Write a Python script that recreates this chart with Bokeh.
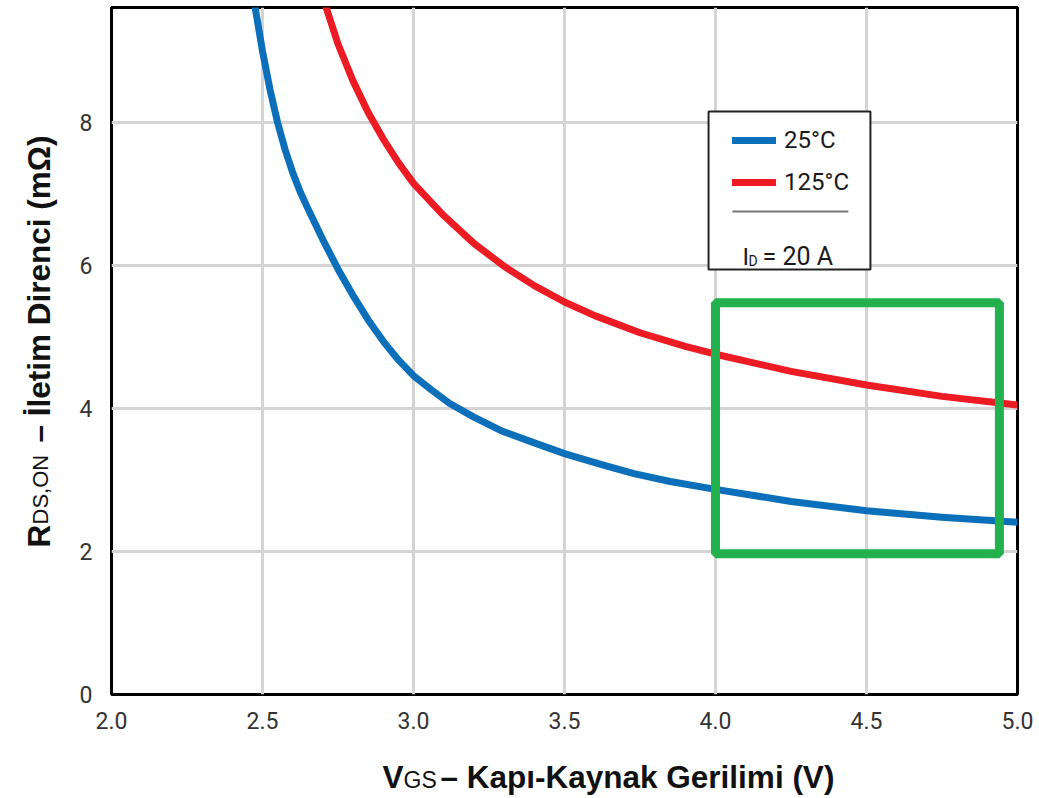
from math import pi
from bokeh.plotting import figure
from bokeh.layouts import row, column
from bokeh.models import (Range1d, FixedTicker, PrintfTickFormatter, Label,
                          BoxAnnotation, Legend, LegendItem)
from bokeh.embed import file_html
from bokeh.resources import INLINE

# ---- data ----
vgs_25 = [2.47, 2.50, 2.525, 2.55, 2.575, 2.60, 2.625, 2.65, 2.70, 2.75, 2.80,
          2.85, 2.90, 2.95, 3.00, 3.06, 3.12, 3.20, 3.29, 3.40, 3.50, 3.62,
          3.73, 3.85, 4.00, 4.25, 4.50, 4.75, 5.00]
rds_25 = [9.75, 9.00, 8.46, 8.00, 7.62, 7.30, 7.03, 6.80, 6.36, 5.95, 5.58,
          5.24, 4.94, 4.68, 4.46, 4.26, 4.07, 3.88, 3.69, 3.52, 3.37, 3.22,
          3.09, 2.98, 2.87, 2.70, 2.57, 2.48, 2.41]
vgs_125 = [2.70, 2.75, 2.80, 2.85, 2.90, 2.95, 3.00, 3.10, 3.20, 3.30, 3.40,
           3.50, 3.60, 3.75, 3.90, 4.00, 4.25, 4.50, 4.75, 5.00]
rds_125 = [9.75, 9.10, 8.58, 8.14, 7.77, 7.44, 7.15, 6.70, 6.31, 5.99, 5.72,
           5.49, 5.30, 5.06, 4.87, 4.76, 4.52, 4.33, 4.17, 4.05]

x_ticks = [2.0, 2.5, 3.0, 3.5, 4.0, 4.5, 5.0]
y_ticks = [0, 2, 4, 6, 8]
series_labels = ["25°C", "125°C"]

# highlighted region (green box)
hl_left, hl_right, hl_bottom, hl_top = 4.0, 4.94, 1.97, 5.48

BLUE = "#0b6fba"
RED = "#ed1c24"
GREEN = "#22b14c"
TICKF = "Roboto"
BOLD = "Liberation Sans"

LEFT_W = 62
MAIN_W = 973
MAIN_H = 740
BOT_H = 55
TOTAL_H = MAIN_H + BOT_H

p = figure(width=MAIN_W, height=MAIN_H, output_backend="svg", toolbar_location=None,
           x_range=Range1d(2.0, 5.0), y_range=Range1d(0, 9.61),
           min_border_left=49, min_border_right=18, min_border_top=7,
           min_border_bottom=46)

p.outline_line_color = "black"
p.outline_line_width = 3

for ax in (p.xaxis[0], p.yaxis[0]):
    ax.axis_line_color = None
    ax.major_tick_line_color = None
    ax.minor_tick_line_color = None
    ax.major_label_text_font = TICKF
    ax.major_label_text_font_size = "23px"
    ax.major_label_text_color = "#333333"

p.xaxis.ticker = FixedTicker(ticks=x_ticks)
p.xaxis.formatter = PrintfTickFormatter(format="%.1f")
p.xaxis.major_label_standoff = 11
p.yaxis.ticker = FixedTicker(ticks=y_ticks)
p.yaxis.formatter = PrintfTickFormatter(format="%d")
p.yaxis.major_label_standoff = 13

p.xgrid.grid_line_color = "#d4d4d4"
p.ygrid.grid_line_color = "#d4d4d4"
p.xgrid.grid_line_width = 3
p.ygrid.grid_line_width = 3

r25 = p.line(vgs_25, rds_25, line_color=BLUE, line_width=7, line_join="round", line_cap="round")
r125 = p.line(vgs_125, rds_125, line_color=RED, line_width=7, line_join="round", line_cap="round")

# green highlight box
p.add_layout(BoxAnnotation(left=hl_left, right=hl_right, bottom=hl_bottom, top=hl_top,
                           fill_alpha=0, line_color=GREEN, line_alpha=1, line_width=9))

# legend frame
p.add_layout(BoxAnnotation(left=3.977, right=4.513, bottom=5.944, top=8.154,
                           fill_color="white", fill_alpha=1,
                           line_color="#222222", line_alpha=1, line_width=2,
                           level="overlay"))
# separator
p.add_layout(BoxAnnotation(left=4.056, right=4.440, bottom=6.741, top=6.769,
                           fill_color="#777777", fill_alpha=1, line_color=None,
                           level="overlay"))

legend = Legend(items=[LegendItem(label=series_labels[0], renderers=[r25]),
                       LegendItem(label=series_labels[1], renderers=[r125])],
                location=(621, 497), padding=0, margin=0, border_line_color=None,
                background_fill_alpha=0, glyph_width=44, glyph_height=30,
                label_height=30, label_standoff=8, spacing=12,
                label_text_font=TICKF, label_text_font_size="24px",
                label_text_color="#1a1a1a")
p.add_layout(legend)


def lab(fig, txt, x, y, size, font, angle=0, color="#111111", style="normal"):
    fig.add_layout(Label(x=x, y=y, x_units="screen", y_units="screen", text=txt,
                         text_font=font, text_font_size=size, text_color=color,
                         text_font_style=style, angle=angle,
                         text_align="left", text_baseline="alphabetic",
                         level="overlay"))


# legend footnote I_D = 20 A
lab(p, "I", 631, 438, "24px", TICKF, color="#1a1a1a")
lab(p, "D", 637, 434, "14px", TICKF, color="#1a1a1a")
lab(p, "= 20 A", 651, 438, "25px", TICKF, color="#1a1a1a")


def text_panel(w, h):
    f = figure(width=w, height=h, output_backend="svg", toolbar_location=None,
               x_range=Range1d(0, 1), y_range=Range1d(0, 1),
               x_axis_type=None, y_axis_type=None, min_border=0)
    f.outline_line_color = None
    f.grid.visible = False
    return f


# x axis title (below the main plot)
bx = text_panel(MAIN_W, BOT_H)
lab(bx, "V", 271, 19, "31.5px", BOLD, style="bold")
lab(bx, "GS", 292, 16, "23px", BOLD)
lab(bx, "– Kapı-Kaynak Gerilimi (V)", 329, 19, "31.5px", BOLD, style="bold")

# y axis title (left of the main plot), rotated
ly = text_panel(LEFT_W, TOTAL_H)
lab(ly, "R", 38, 248, "31.5px", BOLD, angle=pi / 2, style="bold")
lab(ly, "DS,ON", 40, 271, "22px", BOLD, angle=pi / 2)
lab(ly, "– İletim Direnci (mΩ)", 38, 353, "31.5px", BOLD, angle=pi / 2, style="bold")

layout = row(ly, column(p, bx))
open("out.html", "w").write(file_html(layout, INLINE))
